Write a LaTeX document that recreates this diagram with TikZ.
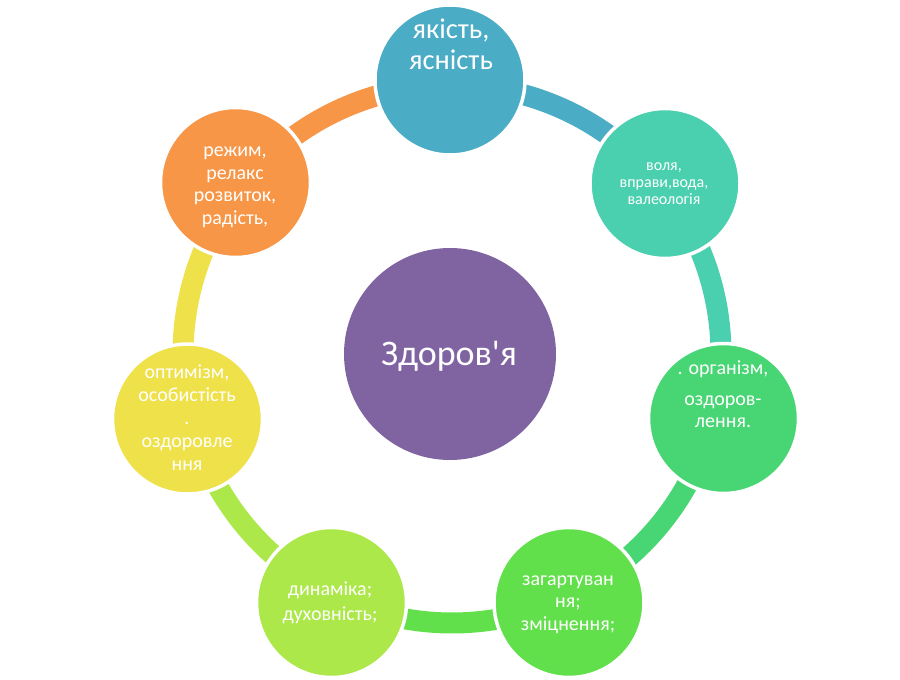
\documentclass[tikz,border=0pt]{standalone}
\usepackage{fontspec}
\newfontfamily\cf{Carlito}
\definecolor{cT}{RGB}{75,172,198}
\definecolor{cTR}{RGB}{74,207,175}
\definecolor{cR}{RGB}{72,214,116}
\definecolor{cBR}{RGB}{98,224,76}
\definecolor{cBL}{RGB}{173,232,74}
\definecolor{cL}{RGB}{239,225,74}
\definecolor{cTL}{RGB}{247,150,70}
\definecolor{cC}{RGB}{128,100,162}
\tikzset{
  bubble/.style={circle, draw=white, line width=3.5pt, minimum size=150pt, inner sep=0pt},
  ringarc/.style={line width=21pt},
  txt/.style={text=white, align=center, inner sep=0pt},
}
\newcommand{\fs}[2]{\fontsize{#1}{#2}\selectfont}
\begin{document}
\begin{tikzpicture}[x=1pt,y=-1pt]
\useasboundingbox (0,0) rectangle (900,680);
% ring points
\coordinate (aT)  at ([shift={(452,354)}]-90:269);
\coordinate (aTR) at ([shift={(452,354)}]-38.7:269);
\coordinate (aR)  at ([shift={(452,354)}]13.4:269);
\coordinate (aBR) at ([shift={(452,354)}]64.8:269);
\coordinate (aBL) at ([shift={(452,354)}]115.9:269);
\coordinate (aL)  at ([shift={(452,354)}]166.2:269);
\coordinate (aTL) at ([shift={(452,354)}]218.4:269);
% ring arcs
\draw[ringarc, cT]  (aT)  arc[start angle=-90,   end angle=-38.7, radius=269];
\draw[ringarc, cTR] (aTR) arc[start angle=-38.7, end angle=13.4,  radius=269];
\draw[ringarc, cR]  (aR)  arc[start angle=13.4,  end angle=64.8,  radius=269];
\draw[ringarc, cBR] (aBR) arc[start angle=64.8,  end angle=115.9, radius=269];
\draw[ringarc, cBL] (aBL) arc[start angle=115.9, end angle=166.2, radius=269];
\draw[ringarc, cL]  (aL)  arc[start angle=166.2, end angle=218.4, radius=269];
\draw[ringarc, cTL] (aTL) arc[start angle=218.4, end angle=270,   radius=269];
% circles
\node[bubble, fill=cT]  (nT)  at (450,80) {};
\node[bubble, fill=cTR] (nTR) at (665,183.5) {};
\node[bubble, fill=cR]  (nR)  at (723.5,418.5) {};
\node[bubble, fill=cBR] (nBR) at (569,602.5) {};
\node[bubble, fill=cBL] (nBL) at (331.5,602.5) {};
\node[bubble, fill=cL]  (nL)  at (187.5,419) {};
\node[bubble, fill=cTL] (nTL) at (235.5,182.5) {};
\node[circle, fill=cC, minimum size=212pt, inner sep=0pt] (nC) at (450,354) {};
% texts
\node[txt, font=\cf\fs{28.5}{31}] (tT) at (451,47.3) {\strut якість,\\\strut ясність};
\node[txt, font=\cf\fs{16}{17}] (tTR) at (664,184.5) {\strut воля,\\\strut вправи,вода,\\\strut валеологія};
\node[txt, font=\cf\fs{20}{22}] (tR) at (723,396.6) {\strut . організм,\\[9.7pt]\strut оздоров-\\\strut лення.};
\node[txt, font=\cf\fs{20}{23}] (tL) at (187,419.4) {\strut оптимізм,\\\strut особистість\\\strut .\\\strut оздоровле\\\strut ння};
\node[txt, font=\cf\fs{20}{22.5}] (tTL) at (235,185.9) {\strut режим,\\\strut релакс\\\strut розвиток,\\\strut радість,};
\node[txt, font=\cf\fs{20}{25}] (tBL) at (330,602.5) {\strut динаміка;\\\strut духовність;};
\node[txt, font=\cf\fs{20}{22.5}] (tBR) at (568,603) {\strut загартуван\\\strut ня;\\\strut зміцнення;};
\node[txt, font=\cf\fs{36}{44}] (tC) at (449,357) {\strut Здоров'я};
\end{tikzpicture}
\end{document}
